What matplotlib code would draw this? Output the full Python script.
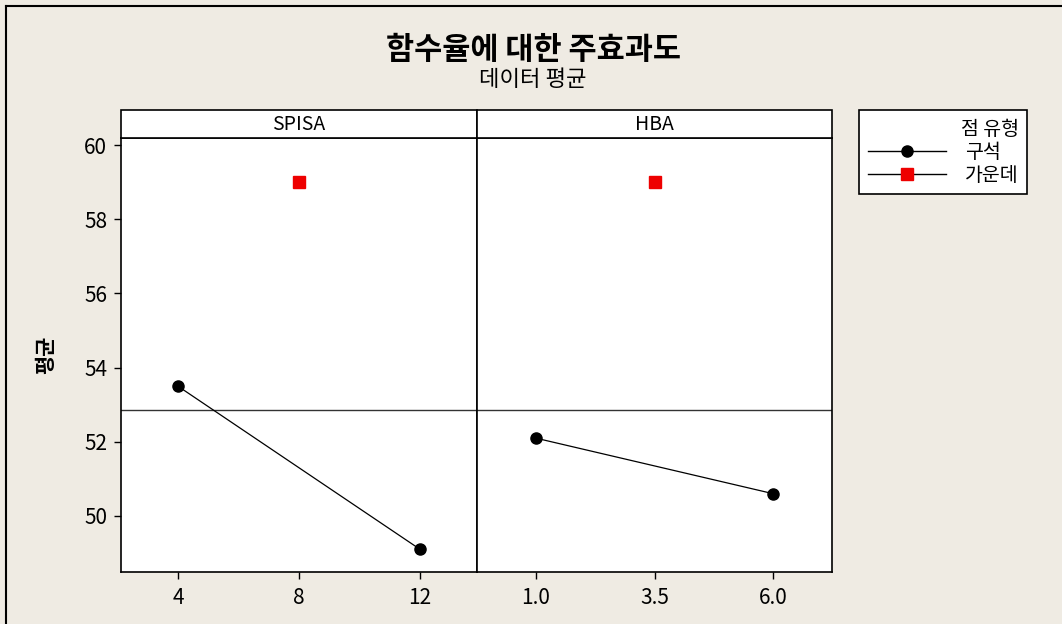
import matplotlib
matplotlib.use('Agg')
import matplotlib.pyplot as plt
from matplotlib.lines import Line2D
from matplotlib.patches import Rectangle

plt.rcParams['font.family'] = ['Noto Sans CJK KR', 'DejaVu Sans']

# data
factors = ['SPISA', 'HBA']
levels = [[4, 12], [1.0, 6.0]]
corner_means = [[53.5, 49.1], [52.1, 50.6]]
center_x = [8, 3.5]
center_mean = [59.0, 59.0]
tick_labels = [['4', '8', '12'], ['1.0', '3.5', '6.0']]
tick_pos = [[4, 8, 12], [1.0, 3.5, 6.0]]
xlims = [(2.12, 13.88), (-0.234, 7.234)]
grand_mean = 52.85

bg = '#EFEBE3'
W, H = 1062, 624
fig = plt.figure(figsize=(W / 100, H / 100), dpi=100, facecolor=bg)

def fx(px):
    return px / W

def fy(py):
    return 1 - py / H

panel_left = [121, 477]
panel_w = [356, 355]
top, bottom, strip_top = 138, 572, 110

axes = []
for i in range(2):
    ax = fig.add_axes([fx(panel_left[i]), fy(bottom), panel_w[i] / W, (bottom - top) / H])
    ax.set_facecolor('white')
    ax.set_ylim(48.49, 60.19)
    ax.set_xlim(*xlims[i])
    ax.axhline(grand_mean, color='#333333', lw=1.0, zorder=1)
    ax.plot(levels[i], corner_means[i], color='black', lw=0.9, marker='o',
            markersize=8, markerfacecolor='black', zorder=3)
    ax.plot([center_x[i]], [center_mean[i]], linestyle='none', marker='s',
            markersize=8, color='#EE0000', zorder=3)
    ax.set_xticks(tick_pos[i])
    ax.set_xticklabels(tick_labels[i])
    ax.tick_params(axis='x', direction='out', length=5, width=1, labelsize=15, pad=6, colors='black')
    ax.set_yticks([50, 52, 54, 56, 58, 60])
    ax.tick_params(axis='y', direction='out', length=5, width=1, labelsize=15, pad=5)
    if i == 1:
        ax.tick_params(axis='y', left=False, labelleft=False)
    for s in ax.spines.values():
        s.set_linewidth(1.2)
        s.set_color('black')
    axes.append(ax)
    # strip
    fig.patches.append(Rectangle((fx(panel_left[i]), fy(top)), panel_w[i] / W, (top - strip_top) / H,
                                 transform=fig.transFigure, facecolor='white', edgecolor='black',
                                 lw=1.2, zorder=0))
    fig.text(fx(panel_left[i] + panel_w[i] / 2), fy((top + strip_top) / 2), factors[i],
             ha='center', va='center', fontsize=14)

axes[0].set_ylabel('평균', fontsize=15, fontweight='bold', labelpad=20)

fig.text(fx(533), fy(50), '함수율에 대한 주효과도', ha='center', va='center',
         fontsize=22, fontweight='bold')
fig.text(fx(533), fy(80), '데이터 평균', ha='center', va='center', fontsize=16)

handles = [Line2D([], [], color='black', lw=1, marker='o', markersize=8),
           Line2D([], [], color='black', lw=1, marker='s', markersize=8,
                  markerfacecolor='#EE0000', markeredgecolor='#EE0000')]
leg = fig.legend(handles, ['구석', '가운데'], title='점 유형', loc='upper left',
                 bbox_to_anchor=(fx(859), fy(110)), fancybox=False, edgecolor='black',
                 framealpha=1, fontsize=14, title_fontsize=14, handlelength=4.0,
                 borderpad=0.45, labelspacing=0.1, handletextpad=1.0, borderaxespad=0)
leg.get_frame().set_linewidth(1.2)
leg._legend_box.align = 'right'

# outer frame lines
fig.add_artist(Line2D([fx(6), 1], [fy(6), fy(6)], color='black', lw=1.5, transform=fig.transFigure))
fig.add_artist(Line2D([fx(6), fx(6)], [fy(6), 0], color='black', lw=1.5, transform=fig.transFigure))

fig.savefig('out.png', dpi=100, facecolor=bg)
